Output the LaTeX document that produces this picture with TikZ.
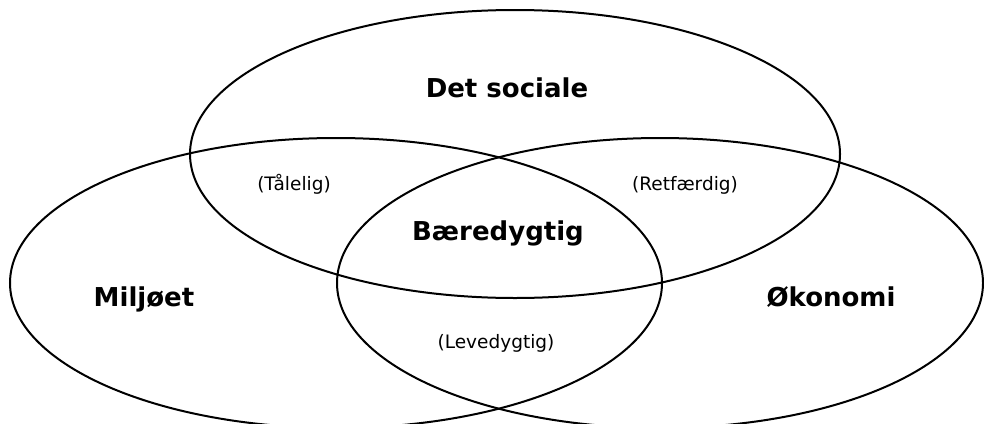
\documentclass[tikz,border=0pt]{standalone}
\usepackage{fontspec}
\setmainfont{DejaVu Sans}

\begin{document}
\begin{tikzpicture}[x=1pt, y=-1pt, ring/.style={line width=2pt, draw=black}, pillar/.style={anchor=base, font=\bfseries\fontsize{26}{30}\selectfont}, overlap/.style={anchor=base, font=\fontsize{18.5}{22}\selectfont}]
			\useasboundingbox (0,0) rectangle (984,423);
			\draw[ring] (515,154) ellipse [x radius=325pt, y radius=144pt];
			\draw[ring] (336,283) ellipse [x radius=326pt, y radius=145pt];
			\draw[ring] (660,283) ellipse [x radius=323pt, y radius=145pt];
			\node[pillar] (social) at (507,97) {Det sociale};
			\node[pillar] (miljo) at (144,306) {Miljøet};
			\node[pillar] (okonomi) at (831,306) {Økonomi};
			\node[pillar] (baere) at (498,240) {Bæredygtig};
			\node[overlap] (taalelig) at (294,190) {(Tålelig)};
			\node[overlap] (retfaerdig) at (685,190) {(Retfærdig)};
			\node[overlap] (levedygtig) at (496,348) {(Levedygtig)};
			\end{tikzpicture}
\end{document}
